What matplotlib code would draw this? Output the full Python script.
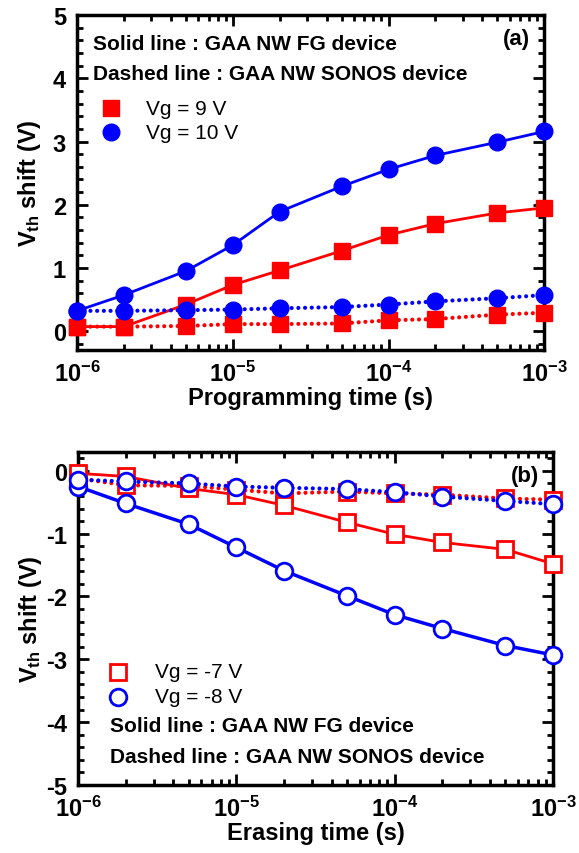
import numpy as np
import matplotlib.pyplot as plt
from matplotlib.ticker import LogLocator, MultipleLocator, FixedLocator, NullFormatter

plt.rcParams['font.family'] = ['Liberation Sans', 'DejaVu Sans']
plt.rcParams['font.weight'] = 'bold'
plt.rcParams['axes.labelweight'] = 'bold'
plt.rcParams['axes.unicode_minus'] = False
plt.rcParams['mathtext.fontset'] = 'custom'
plt.rcParams['mathtext.rm'] = 'Liberation Sans:bold'
plt.rcParams['mathtext.bf'] = 'Liberation Sans:bold'
plt.rcParams['mathtext.it'] = 'Liberation Sans:bold'

# tiempos
t = [1e-6, 2e-6, 5e-6, 1e-5, 2e-5, 5e-5, 1e-4, 2e-4, 5e-4, 1e-3]

# (a) programacion
fg_9 = [0.07, 0.07, 0.42, 0.73, 0.96, 1.27, 1.52, 1.70, 1.87, 1.95]
fg_10 = [0.32, 0.57, 0.95, 1.36, 1.89, 2.29, 2.56, 2.78, 2.99, 3.16]
sonos_9 = [0.07, 0.07, 0.08, 0.11, 0.11, 0.12, 0.17, 0.19, 0.26, 0.29]
sonos_10 = [0.32, 0.32, 0.33, 0.34, 0.36, 0.38, 0.42, 0.47, 0.52, 0.57]

# (b) borrado
fg_m7 = [-0.04, -0.09, -0.28, -0.38, -0.55, -0.82, -1.01, -1.14, -1.25, -1.48]
fg_m8 = [-0.25, -0.52, -0.85, -1.22, -1.59, -1.99, -2.29, -2.51, -2.78, -2.93]
sonos_m7 = [-0.12, -0.23, -0.24, -0.30, -0.36, -0.33, -0.36, -0.38, -0.44, -0.46]
sonos_m8 = [-0.14, -0.17, -0.20, -0.25, -0.27, -0.29, -0.34, -0.41, -0.48, -0.53]

xticks = [1e-6, 1e-5, 1e-4, 1e-3]
xticklabels = [r'$10^{-6}$', r'$10^{-5}$', r'$10^{-4}$', r'$10^{-3}$']

RED = '#ff0000'
BLUE = '#0000ff'
DOT = (0, (0.01, 1.6))
DOT_LW = 3.0

fig = plt.figure(figsize=(5.79, 8.54), dpi=100)
ax1 = fig.add_axes([0.133, 0.589, 0.807, 0.392])
ax2 = fig.add_axes([0.135, 0.0796, 0.820, 0.390])


def style_axes(ax):
    ax.set_xscale('log')
    ax.set_xlim(1e-6, 1e-3)
    ax.xaxis.set_major_locator(FixedLocator(xticks))
    ax.set_xticklabels(xticklabels)
    ax.xaxis.set_minor_locator(LogLocator(base=10, subs=np.arange(2, 10)))
    ax.xaxis.set_minor_formatter(NullFormatter())
    ax.yaxis.set_major_locator(MultipleLocator(1))
    ax.yaxis.set_minor_locator(MultipleLocator(0.2))
    ax.tick_params(which='both', direction='in', top=True, right=True,
                   width=2, labelsize=17)
    ax.tick_params(axis='x', pad=8)
    ax.tick_params(axis='y', pad=8)
    ax.tick_params(which='major', length=8)
    ax.tick_params(which='minor', length=4)
    for s in ax.spines.values():
        s.set_linewidth(2.5)


# panel (a)
ax1.plot(t, fg_9, '-', color=RED, lw=2, marker='s', ms=12, mfc=RED, mec=RED, clip_on=False, zorder=3)
ax1.plot(t, sonos_9, ls=DOT, color=RED, lw=DOT_LW, dash_capstyle='round', marker='s', ms=12, mfc=RED, mec=RED, clip_on=False, zorder=3)
ax1.plot(t, fg_10, '-', color=BLUE, lw=2, marker='o', ms=12, mfc=BLUE, mec=BLUE, clip_on=False, zorder=4)
ax1.plot(t, sonos_10, ls=DOT, color=BLUE, lw=DOT_LW, dash_capstyle='round', marker='o', ms=12, mfc=BLUE, mec=BLUE, clip_on=False, zorder=4)
style_axes(ax1)
ax1.set_ylim(-0.3, 5)
ax1.set_xlabel('Programming time (s)', fontsize=17, labelpad=0)
ax1.set_ylabel(r'V$_{\mathrm{th}}$ shift (V)', fontsize=17)
ax1.yaxis.set_label_coords(-0.073, 0.5)
ax1.text(0.035, 0.915, 'Solid line : GAA NW FG device', transform=ax1.transAxes, fontsize=15, va='center')
ax1.text(0.035, 0.825, 'Dashed line : GAA NW SONOS device', transform=ax1.transAxes, fontsize=15, va='center')
ax1.text(0.97, 0.93, '(a)', transform=ax1.transAxes, fontsize=16, ha='right', va='center')
ax1.plot([0.072], [0.722], marker='s', ms=12, color=RED, transform=ax1.transAxes, ls='none')
ax1.plot([0.072], [0.650], marker='o', ms=12, color=BLUE, transform=ax1.transAxes, ls='none')
ax1.text(0.148, 0.722, 'Vg = 9 V', transform=ax1.transAxes, fontsize=15, fontweight='normal', va='center')
ax1.text(0.148, 0.650, 'Vg = 10 V', transform=ax1.transAxes, fontsize=15, fontweight='normal', va='center')

# panel (b)
ax2.plot(t, sonos_m7, ls=DOT, color=RED, lw=DOT_LW, dash_capstyle='round', marker='s', ms=12, mfc='white', mec=RED, mew=2, clip_on=False, zorder=3)
ax2.plot(t, fg_m7, '-', color=RED, lw=2, marker='s', ms=12, mfc='white', mec=RED, mew=2, clip_on=False, zorder=3)
ax2.plot(t, fg_m8, '-', color=BLUE, lw=2.5, marker='o', ms=12, mfc='white', mec=BLUE, mew=2, clip_on=False, zorder=4)
ax2.plot(t, sonos_m8, ls=DOT, color=BLUE, lw=DOT_LW, dash_capstyle='round', marker='o', ms=12, mfc='white', mec=BLUE, mew=2, clip_on=False, zorder=4)
style_axes(ax2)
ax2.set_ylim(-5, 0.3)
ax2.set_xlabel('Erasing time (s)', fontsize=17, labelpad=0)
ax2.set_ylabel(r'V$_{\mathrm{th}}$ shift (V)', fontsize=17)
ax2.yaxis.set_label_coords(-0.073, 0.5)
ax2.text(0.97, 0.93, '(b)', transform=ax2.transAxes, fontsize=16, ha='right', va='center')
ax2.plot([0.084], [0.340], marker='s', ms=12, mfc='white', mec=RED, mew=2, transform=ax2.transAxes, ls='none')
ax2.plot([0.084], [0.265], marker='o', ms=12, mfc='white', mec=BLUE, mew=2, transform=ax2.transAxes, ls='none')
ax2.text(0.162, 0.340, 'Vg = -7 V', transform=ax2.transAxes, fontsize=15, fontweight='normal', va='center')
ax2.text(0.162, 0.265, 'Vg = -8 V', transform=ax2.transAxes, fontsize=15, fontweight='normal', va='center')
ax2.text(0.067, 0.178, 'Solid line : GAA NW FG device', transform=ax2.transAxes, fontsize=15, va='center')
ax2.text(0.067, 0.085, 'Dashed line : GAA NW SONOS device', transform=ax2.transAxes, fontsize=15, va='center')

fig.savefig('out.png', dpi=100)
